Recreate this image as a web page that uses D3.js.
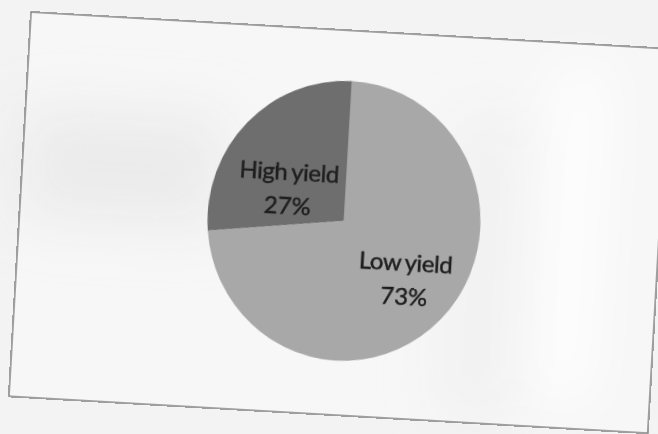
<!DOCTYPE html>
<html>
<head>
<meta charset="utf-8">
<script src="https://cdn.jsdelivr.net/npm/d3@7"></script>
<style>
  html, body { margin: 0; padding: 0; background: #f1f1f1; }
  svg { display: block; }
</style>
</head>
<body>
<div id="chart"></div>
<script>
// ---- data ----
const categories = ["Low yield", "High yield"];
const values = [73, 27];
const percentLabels = ["73%", "27%"];

// ---- layout ----
const W = 658, H = 434;
const tilt = 3.3;                 // photo rotation (deg)
const frame = { x: 31, y: 12, w: 640, h: 385 };
const center = { x: 324.5, y: 190.5 };  // local to frame
const radius = 140;
const squeezeX = 0.975;
const colors = { "Low yield": "#a8a8a8", "High yield": "#6e6e6e" };
const labelRadius = { "Low yield": 84, "High yield": 66 };
const labelNudge = { "Low yield": [1, -3], "High yield": [-8, 12] };

const svg = d3.select("#chart").append("svg")
  .attr("width", W).attr("height", H);

const defs = svg.append("defs");
const blur = defs.append("filter").attr("id", "blur")
  .attr("x", "-50%").attr("y", "-50%").attr("width", "200%").attr("height", "200%");
blur.append("feGaussianBlur").attr("stdDeviation", 28);

svg.append("rect").attr("width", W).attr("height", H).attr("fill", "#f3f3f3");

const page = svg.append("g")
  .attr("transform", `translate(${frame.x},${frame.y}) rotate(${tilt})`);

page.append("rect")
  .attr("x", 0).attr("y", 0).attr("width", frame.w).attr("height", frame.h)
  .attr("fill", "#f7f7f7");

// soft photo shading
const shade = page.append("g").attr("filter", "url(#blur)");
shade.append("rect").attr("x", 0).attr("y", 95).attr("width", 200).attr("height", 110)
  .attr("fill", "#e2e2e2").attr("opacity", 0.55);
shade.append("rect").attr("x", 530).attr("y", 20).attr("width", 50).attr("height", 340)
  .attr("fill", "#ffffff").attr("opacity", 0.9);
shade.append("rect").attr("x", 430).attr("y", 80).attr("width", 70).attr("height", 300)
  .attr("fill", "#ebebeb").attr("opacity", 0.5);

page.append("rect")
  .attr("x", 0).attr("y", 0).attr("width", frame.w).attr("height", frame.h)
  .attr("fill", "none").attr("stroke", "#7a7a7a").attr("stroke-width", 1.4);

const pie = d3.pie().sort(null).value(d => d.value);
const data = pie(categories.map((c, i) => ({ name: c, value: values[i], label: percentLabels[i] })));

const arc = d3.arc().innerRadius(0).outerRadius(radius);

const pg = page.append("g").attr("transform", `translate(${center.x},${center.y})`);

pg.append("g").attr("transform", `scale(${squeezeX},1)`)
  .selectAll("path.slice").data(data).join("path")
  .attr("class", "slice")
  .attr("d", arc)
  .attr("fill", d => colors[d.data.name]);

const lbl = pg.selectAll("g.lbl").data(data).join("g")
  .attr("class", "lbl")
  .attr("transform", d => {
    const r = labelRadius[d.data.name];
    const c = d3.arc().innerRadius(r).outerRadius(r).centroid(d);
    const n = labelNudge[d.data.name];
    return `translate(${c[0] + n[0]},${c[1] + n[1]})`;
  });

const textStyle = sel => sel
  .attr("text-anchor", "middle")
  .attr("font-family", "Lato, 'Open Sans', sans-serif")
  .attr("font-size", 24)
  .attr("fill", "#1e1e1e")
  .attr("stroke", "#1e1e1e")
  .attr("stroke-width", 0.45);

lbl.append("text").call(textStyle)
  .attr("y", -6)
  .attr("letter-spacing", -0.4)
  .attr("word-spacing", -1.5)
  .text(d => d.data.name);

lbl.append("text").call(textStyle)
  .attr("y", 28)
  .text(d => d.data.label);
</script>
</body>
</html>
